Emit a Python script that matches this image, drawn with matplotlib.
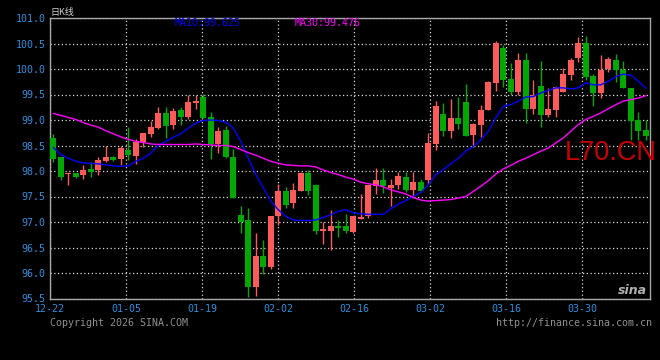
import numpy as np
import matplotlib
matplotlib.use('Agg')
import matplotlib.pyplot as plt

# 日K线 数据
dates = ['12-22', '01-05', '01-19', '02-02', '02-16', '03-02', '03-16', '03-30']

opens = [98.65, 98.27, 97.95, 97.97, 97.92, 98.04, 98.01, 98.19, 98.28, 98.24,
         98.41, 98.29, 98.57, 98.73, 98.84, 99.14, 98.91, 99.20, 99.06, 99.34,
         99.45, 99.06, 98.53, 98.80, 98.27, 97.14, 97.03, 95.73, 96.33, 96.12,
         97.12, 97.61, 97.38, 97.61, 97.96, 97.73, 96.83, 96.83, 96.92, 96.92,
         96.80, 97.06, 97.11, 97.71, 97.82, 97.67, 97.72, 97.88, 97.63, 97.78,
         97.82, 98.53, 99.12, 98.78, 99.04, 99.35, 98.71, 98.90, 99.20, 99.73,
         100.41, 99.80, 99.55, 100.18, 99.22, 99.67, 99.10, 99.20, 99.55, 99.88,
         100.22, 100.51, 99.86, 99.53, 100.00, 100.18, 99.98, 99.63, 99.00, 98.80]
highs = [98.73, 98.27, 97.99, 97.97, 98.12, 98.18, 98.28, 98.49, 98.30, 98.50,
         98.86, 98.63, 98.75, 98.98, 99.25, 99.25, 99.24, 99.25, 99.49, 99.49,
         99.51, 99.16, 98.86, 98.89, 98.43, 97.31, 97.28, 96.78, 96.65, 97.12,
         97.75, 97.69, 97.76, 97.99, 98.02, 97.75, 97.00, 97.24, 97.04, 97.16,
         97.12, 97.55, 97.73, 98.06, 98.06, 97.84, 97.98, 97.99, 97.99, 97.84,
         98.75, 99.37, 99.33, 99.41, 99.45, 99.71, 98.94, 99.29, 99.77, 100.55,
         100.47, 100.12, 100.31, 100.31, 99.78, 100.16, 99.63, 99.67, 100.02, 100.22,
         100.63, 100.65, 99.90, 100.28, 100.24, 100.29, 100.16, 99.63, 99.16, 99.00]
lows = [98.18, 97.82, 97.73, 97.86, 97.85, 97.89, 97.93, 98.18, 98.20, 98.12,
        98.22, 98.14, 98.48, 98.67, 98.82, 98.65, 98.83, 98.90, 99.02, 99.22,
        99.04, 98.24, 98.35, 98.26, 97.47, 96.78, 95.53, 95.54, 95.98, 96.07,
        96.95, 97.28, 97.28, 97.60, 97.53, 96.77, 96.57, 96.46, 96.71, 96.78,
        96.79, 97.05, 97.08, 97.55, 97.57, 97.31, 97.64, 97.59, 97.47, 97.58,
        97.75, 98.42, 98.69, 98.65, 98.82, 98.69, 98.47, 98.67, 99.20, 99.57,
        99.65, 99.49, 99.49, 98.94, 99.12, 98.86, 99.06, 99.06, 99.55, 99.78,
        100.14, 99.78, 99.28, 99.43, 99.94, 99.75, 99.63, 98.61, 98.61, 98.61]
closes = [98.24, 97.89, 97.97, 97.89, 98.02, 97.98, 98.22, 98.28, 98.22, 98.45,
          98.31, 98.57, 98.75, 98.86, 99.14, 98.89, 99.18, 99.06, 99.35, 99.38,
          99.04, 98.53, 98.79, 98.27, 97.47, 97.00, 95.73, 96.33, 96.12, 97.12,
          97.61, 97.34, 97.63, 97.97, 97.60, 96.83, 96.86, 96.92, 96.89, 96.83,
          97.11, 97.10, 97.73, 97.82, 97.71, 97.73, 97.90, 97.63, 97.78, 97.61,
          98.55, 99.28, 98.78, 99.04, 98.92, 98.69, 98.92, 99.20, 99.75, 100.51,
          99.78, 99.55, 100.18, 99.22, 99.49, 99.10, 99.22, 99.65, 99.90, 100.18,
          100.51, 99.84, 99.53, 99.98, 100.20, 99.98, 99.63, 98.98, 98.78, 98.69]

ma10 = [98.46, 98.32, 98.25, 98.19, 98.16, 98.15, 98.14, 98.12, 98.10, 98.09,
        98.10, 98.19, 98.25, 98.35, 98.50, 98.58, 98.66, 98.73, 98.84, 98.94,
        98.99, 99.00, 98.99, 98.96, 98.84, 98.58, 98.25, 97.93, 97.67, 97.41,
        97.24, 97.11, 97.04, 97.03, 97.03, 97.04, 97.09, 97.14, 97.21, 97.24,
        97.18, 97.16, 97.15, 97.15, 97.15, 97.26, 97.35, 97.42, 97.50, 97.58,
        97.73, 97.93, 98.03, 98.14, 98.25, 98.39, 98.48, 98.61, 98.78, 99.04,
        99.27, 99.30, 99.37, 99.45, 99.46, 99.53, 99.58, 99.63, 99.63, 99.61,
        99.63, 99.73, 99.69, 99.69, 99.76, 99.85, 99.90, 99.88, 99.76, 99.625]
ma30 = [99.13, 99.09, 99.05, 99.01, 98.95, 98.90, 98.86, 98.79, 98.73, 98.67,
        98.62, 98.58, 98.56, 98.53, 98.52, 98.52, 98.52, 98.52, 98.52, 98.53,
        98.52, 98.51, 98.50, 98.50, 98.48, 98.42, 98.36, 98.31, 98.25, 98.19,
        98.15, 98.12, 98.11, 98.10, 98.10, 98.08, 98.02, 97.97, 97.93, 97.88,
        97.84, 97.78, 97.75, 97.73, 97.69, 97.63, 97.59, 97.55, 97.48, 97.43,
        97.41, 97.42, 97.43, 97.44, 97.47, 97.50, 97.60, 97.70, 97.81, 97.94,
        98.04, 98.11, 98.19, 98.25, 98.32, 98.39, 98.45, 98.55, 98.65, 98.78,
        98.91, 99.01, 99.07, 99.14, 99.22, 99.30, 99.37, 99.40, 99.43, 99.476]

mono = 'DejaVu Sans Mono'
W, H = 660, 360

fig = plt.figure(figsize=(6.6, 3.6), dpi=100, facecolor='black')
ax = fig.add_axes([50 / W, 1 - 298.5 / H, 600 / W, 280.5 / H], facecolor='black')

o = np.array(opens)
c = np.array(closes)
x = np.arange(len(o))
up = c >= o
col = np.where(up, '#ff5a5a', '#00a800')

ax.vlines(x, lows, highs, colors=col, lw=1, zorder=2)
body = np.maximum(np.abs(c - o), 0.02)
ax.bar(x, body, bottom=np.minimum(o, c), width=0.8, color=col, lw=0, zorder=3)

ax.plot(x, ma10, color='#0000ff', lw=1, zorder=4)
ax.plot(x, ma30, color='#ff00ff', lw=1, zorder=4)

ax.set_ylim(95.5, 101.0)
yt = np.arange(95.5, 101.01, 0.5)
ax.set_yticks(yt)
ax.set_yticklabels(['%.1f' % v for v in yt])

x0, x1 = -0.44, 79.56
ax.set_xlim(x0, x1)
xt = x0 + np.arange(len(dates)) * (x1 - x0) * 76 / 600
ax.set_xticks(xt)
ax.set_xticklabels(dates)

ax.grid(True, color='#d8d8d8', ls=(0, (1, 2)), lw=0.9, zorder=1)
ax.tick_params(length=0, colors='#2a90e0', labelsize=7.2, pad=4)
ax.tick_params(axis='y', pad=3)
for lab in ax.get_xticklabels() + ax.get_yticklabels():
    lab.set_family(mono)
for s in ax.spines.values():
    s.set_color('#a8a8a8')
    s.set_linewidth(1)

fig.text(50 / W, 1 - 12 / H, '日K线', color='#d0d0d0', fontsize=6.5,
         family=['Noto Sans CJK SC', 'DejaVu Sans'], va='center')
fig.text(175 / W, 1 - 23 / H, 'MA10:99.625', color='#0000ff', fontsize=7.2,
         family=mono, va='center')
fig.text(295 / W, 1 - 23 / H, 'MA30:99.476', color='#ff00ff', fontsize=7.2,
         family=mono, va='center')
fig.text(565 / W, 1 - 160 / H, 'L70.CN', color='#cc0000', fontsize=19.5,
         family='Liberation Sans', va='baseline')
fig.text(632 / W, 1 - 290 / H, 'sina', color='#b0b0b0', fontsize=9,
         style='italic', weight='bold', ha='center', va='center')
fig.text(50 / W, 1 - 323.5 / H, 'Copyright 2026 SINA.COM', color='#909090',
         fontsize=7.2, family=mono, va='center')
fig.text(652 / W, 1 - 323.5 / H, 'http://finance.sina.com.cn', color='#909090',
         fontsize=7.2, family=mono, va='center', ha='right')

fig.savefig('out.png', dpi=100, facecolor='black')
